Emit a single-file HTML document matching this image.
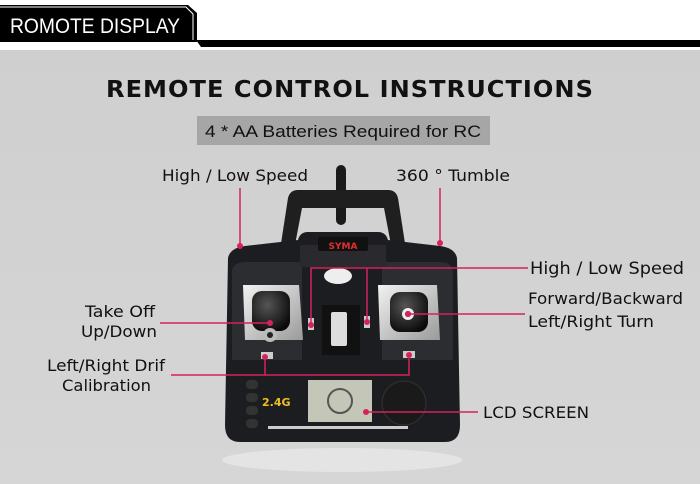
<!DOCTYPE html>
<html><head><style>
html,body{margin:0;padding:0;background:#fff;}
svg{display:block;}
text{font-family:"DejaVu Sans","Liberation Sans",sans-serif;fill:#111;}
</style></head><body>
<svg width="700" height="484" viewBox="0 0 700 484" xmlns="http://www.w3.org/2000/svg">
<defs>
<linearGradient id="bg" x1="0" y1="0" x2="0" y2="1"><stop offset="0" stop-color="#cfcfcf"/><stop offset="1" stop-color="#d6d6d6"/></linearGradient>
<radialGradient id="stick" cx="0.4" cy="0.35" r="0.7"><stop offset="0" stop-color="#555"/><stop offset="1" stop-color="#0a0a0a"/></radialGradient>
<linearGradient id="plate" x1="0" y1="0" x2="1" y2="1"><stop offset="0" stop-color="#f2f2f2"/><stop offset="1" stop-color="#9a9a9a"/></linearGradient>
</defs>
<rect x="0" y="0" width="700" height="484" fill="#fff"/>
<rect x="0" y="50" width="700" height="434" fill="url(#bg)"/>
<!-- header -->
<path d="M0 5 H188 L197 13 V42 H0Z" fill="#000"/>
<path d="M0 7 H186 L193 14 V40" fill="none" stroke="#fff" stroke-width="1"/>
<path d="M196 40 L201 47 H700 V40 Z" fill="#000"/>
<text x="10" y="33" font-size="21" style="fill:#fff;font-family:'Liberation Sans',sans-serif" textLength="170" lengthAdjust="spacingAndGlyphs">ROMOTE DISPLAY</text>
<text x="350" y="97" text-anchor="middle" font-size="23" font-weight="bold" textLength="488" lengthAdjust="spacingAndGlyphs" style="font-family:'DejaVu Sans',sans-serif;letter-spacing:1px">REMOTE CONTROL INSTRUCTIONS</text>
<rect x="197" y="116" width="293" height="29" fill="#a6a6a6"/>
<text x="343" y="137" text-anchor="middle" font-size="17" textLength="276" lengthAdjust="spacingAndGlyphs" style="font-family:'Liberation Sans',sans-serif">4 * AA Batteries  Required for RC</text>

<!-- remote -->
<ellipse cx="342" cy="460" rx="120" ry="12" fill="#e4e4e4"/>
<rect x="336" y="165" width="10" height="60" rx="5" fill="#1a1a1a"/>
<path d="M280 250 L288 198 Q290 190 298 190 H388 Q396 190 398 198 L406 250 H392 L384 208 H302 L294 250Z" fill="#1f1f1f"/>
<path d="M228 258 Q230 248 245 246 L298 240 Q300 232 308 232 H378 Q386 232 388 240 L440 246 Q455 248 457 258 L460 425 Q460 442 445 442 H240 Q225 442 225 425Z" fill="#1c1d21"/>
<path d="M232 270 Q234 262 246 262 H302 V360 H232Z" fill="#2b2d31"/>
<path d="M382 262 H440 Q452 262 453 272 V360 H382Z" fill="#2b2d31"/>
<rect x="300" y="245" width="86" height="22" fill="#2a2a2e"/>
<rect x="318" y="237" width="50" height="14" rx="2" fill="#111"/>
<text x="343" y="249" text-anchor="middle" font-size="9" font-weight="bold" style="fill:#e23030">SYMA</text>
<ellipse cx="338" cy="276" rx="14" ry="8" fill="#eee"/>
<rect x="322" y="305" width="38" height="50" fill="#111"/>
<rect x="331" y="312" width="16" height="34" rx="2" fill="#ddd"/>
<!-- left stick -->
<path d="M243 285 H299 L303 340 H245Z" fill="url(#plate)"/>
<rect x="252" y="291" width="38" height="40" rx="10" fill="url(#stick)"/>
<circle cx="270" cy="335" r="7" fill="#bbb"/><circle cx="270" cy="335" r="3" fill="#222"/>
<!-- right stick -->
<path d="M378 285 H437 L440 340 H380Z" fill="url(#plate)"/>
<rect x="390" y="292" width="38" height="40" rx="10" fill="url(#stick)"/>
<circle cx="408" cy="314" r="6" fill="#eee"/><circle cx="408" cy="314" r="3" fill="#111"/>
<!-- trims -->
<rect x="308" y="318" width="6" height="12" fill="#ccc"/>
<rect x="364" y="316" width="6" height="12" fill="#ccc"/>
<rect x="261" y="352" width="12" height="7" fill="#ccc"/>
<rect x="403" y="351" width="12" height="7" fill="#ccc"/>
<!-- lower -->
<rect x="246" y="380" width="12" height="9" rx="4" fill="#333"/>
<rect x="246" y="393" width="12" height="9" rx="4" fill="#333"/>
<rect x="246" y="406" width="12" height="9" rx="4" fill="#333"/>
<rect x="246" y="419" width="12" height="9" rx="4" fill="#333"/>
<text x="262" y="406" font-size="11" font-weight="bold" style="fill:#f0c020">2.4G</text>
<rect x="308" y="380" width="64" height="42" fill="#c4c6b8"/>
<circle cx="340" cy="401" r="12" fill="none" stroke="#555" stroke-width="2"/>
<circle cx="404" cy="403" r="22" fill="#1a1a1a" stroke="#333"/>
<rect x="268" y="426" width="140" height="3" fill="#ccc"/>

<!-- connectors -->
<g stroke="#d6225a" stroke-width="1.5" fill="none">
<path d="M240 188 V246"/>
<path d="M440 188 V243"/>
<path d="M311 325 V268 H528 M367 268 V322"/>
<path d="M408 314 H525"/>
<path d="M160 323 H270"/>
<path d="M171 375 H409 V355 M265 375 V357"/>
<path d="M366 412 H478"/>
</g>
<g fill="#d6225a">
<circle cx="240" cy="246" r="3"/><circle cx="440" cy="243" r="3"/>
<circle cx="311" cy="325" r="3"/><circle cx="367" cy="322" r="3"/>
<circle cx="408" cy="314" r="3"/><circle cx="270" cy="323" r="3"/>
<circle cx="265" cy="357" r="3"/><circle cx="409" cy="355" r="3"/>
<circle cx="366" cy="412" r="3"/>
</g>

<g font-size="16">
<text x="162" y="181" textLength="146" lengthAdjust="spacingAndGlyphs">High / Low Speed</text>
<text x="396" y="181" textLength="114" lengthAdjust="spacingAndGlyphs">360 ° Tumble</text>
<text x="530" y="274" font-size="17" textLength="154" lengthAdjust="spacingAndGlyphs">High / Low Speed</text>
<text x="528" y="304" textLength="155" lengthAdjust="spacingAndGlyphs">Forward/Backward</text>
<text x="528" y="327" textLength="126" lengthAdjust="spacingAndGlyphs">Left/Right Turn</text>
<text x="155" y="317" text-anchor="end" textLength="70" lengthAdjust="spacingAndGlyphs">Take Off</text>
<text x="157" y="337" text-anchor="end" textLength="76" lengthAdjust="spacingAndGlyphs">Up/Down</text>
<text x="47" y="371" textLength="118" lengthAdjust="spacingAndGlyphs">Left/Right Drif</text>
<text x="62" y="391" textLength="89" lengthAdjust="spacingAndGlyphs">Calibration</text>
<text x="483" y="418" textLength="106" lengthAdjust="spacingAndGlyphs">LCD SCREEN</text>
</g>
</svg>
</body></html>
